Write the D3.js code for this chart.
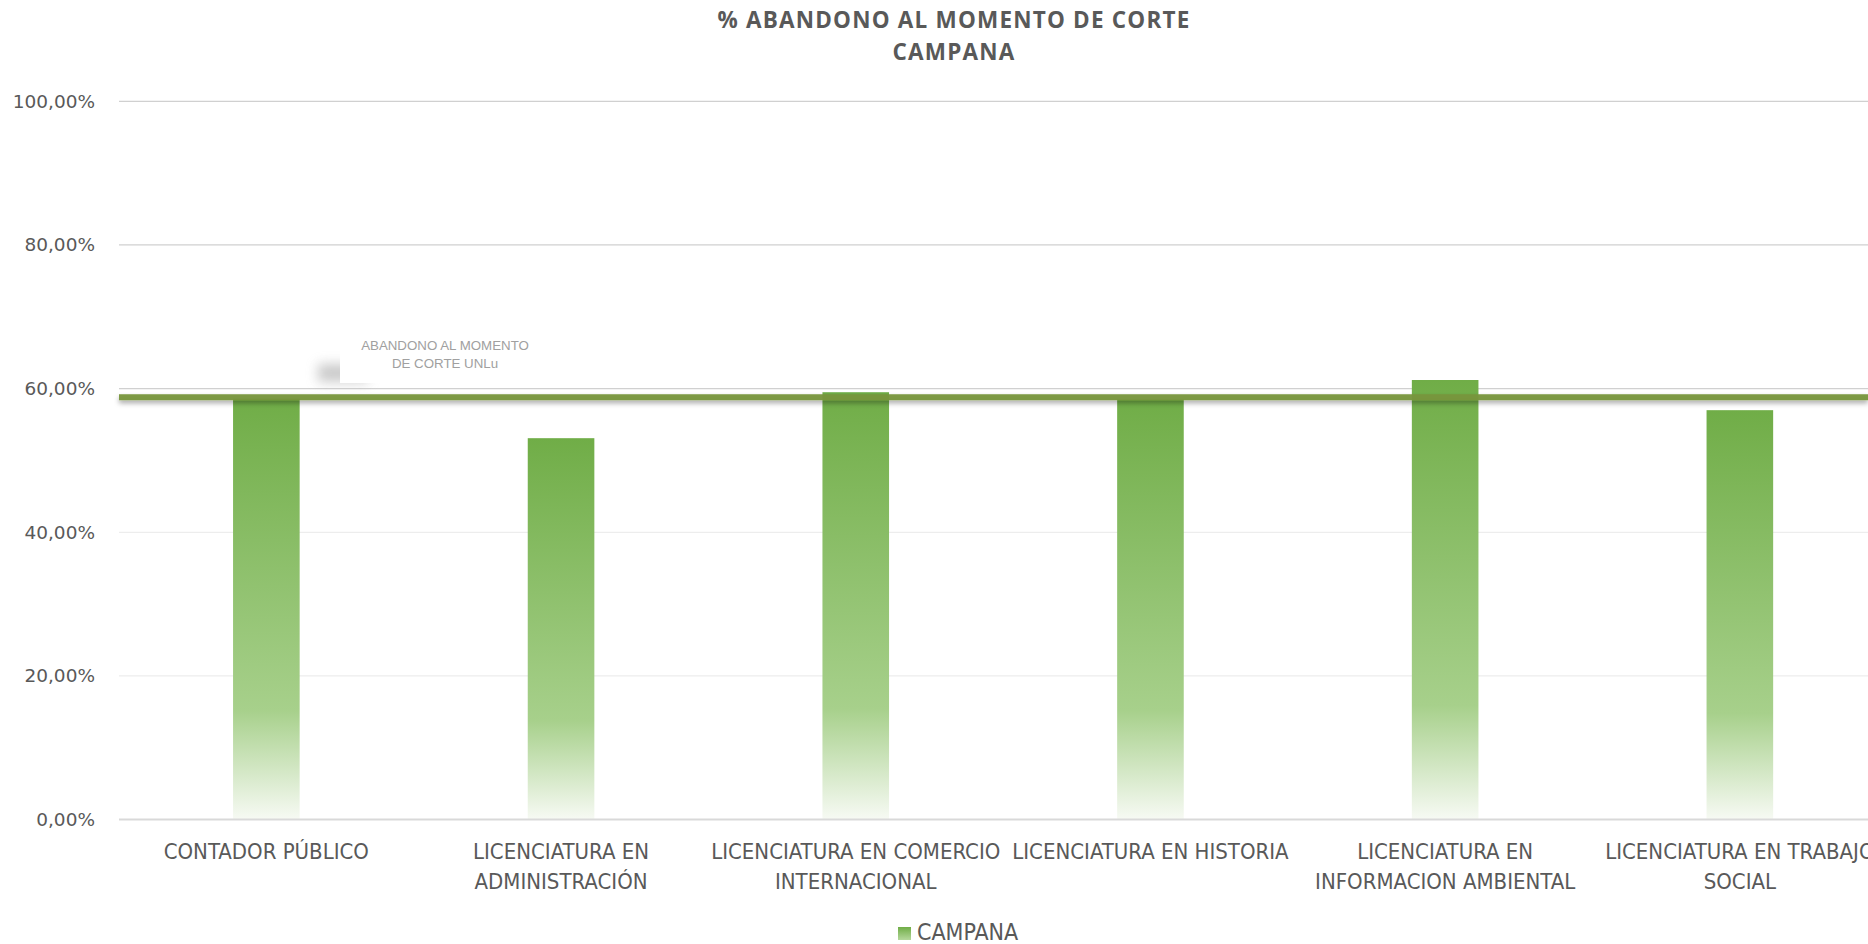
<!DOCTYPE html>
<html>
<head>
<meta charset="utf-8">
<script src="https://cdn.jsdelivr.net/npm/d3@7"></script>
<style>
  html, body { margin: 0; padding: 0; background: #fff; overflow: hidden; }
  .cat { font-family: "Liberation Sans Narrow", "DejaVu Sans Condensed", "Open Sans", sans-serif; }
</style>
</head>
<body>
<div id="chart"></div>
<script>
// chart data
const categories = [
  "CONTADOR PÚBLICO",
  "LICENCIATURA EN\nADMINISTRACIÓN",
  "LICENCIATURA EN COMERCIO\nINTERNACIONAL",
  "LICENCIATURA EN HISTORIA",
  "LICENCIATURA EN\nINFORMACION AMBIENTAL",
  "LICENCIATURA EN TRABAJO\nSOCIAL"
];
const campana = [0.586, 0.531, 0.595, 0.585, 0.612, 0.570];
const promedioUnlu = 0.588;
const yTicks = [0, 0.2, 0.4, 0.6, 0.8, 1];
const titleLines = ["% ABANDONO AL MOMENTO DE CORTE", "CAMPANA"];
const lineLabel = ["ABANDONO AL MOMENTO", "DE CORTE UNLu"];
const seriesName = "CAMPANA";

const width = 1868, height = 944;
const plotLeft = 119, plotTop = 101.3, plotBottom = 819.6;
const step = 294.7;

const svg = d3.select("#chart")
  .append("svg")
  .attr("width", width)
  .attr("height", height);

const defs = svg.append("defs");

// bar gradient
const grad = defs.append("linearGradient")
  .attr("id", "barGrad")
  .attr("x1", 0).attr("y1", 0).attr("x2", 0).attr("y2", 1);
grad.append("stop").attr("offset", "0").attr("stop-color", "#70ad47");
grad.append("stop").attr("offset", "0.74").attr("stop-color", "#a7d08b");
grad.append("stop").attr("offset", "1").attr("stop-color", "#f7faf4");

// shadow for the average line (user space, the line is flat)
const lineShadow = defs.append("filter")
  .attr("id", "lineShadow")
  .attr("filterUnits", "userSpaceOnUse")
  .attr("x", 0).attr("y", 300).attr("width", width).attr("height", 200);
lineShadow.append("feDropShadow")
  .attr("dx", 0).attr("dy", 3).attr("stdDeviation", 2.5)
  .attr("flood-color", "#000").attr("flood-opacity", 0.35);

const boxShadow = defs.append("filter")
  .attr("id", "boxShadow")
  .attr("filterUnits", "userSpaceOnUse")
  .attr("x", 280).attr("y", 320).attr("width", 120).attr("height", 90);
boxShadow.append("feGaussianBlur").attr("stdDeviation", 6);

const locale = d3.formatLocale({decimal: ",", thousands: ".", grouping: [3], currency: ["$", ""]});
const fmt = locale.format(".2%");

// scales
const x = d3.scaleBand()
  .domain(categories)
  .range([plotLeft, plotLeft + step * categories.length])
  .paddingInner(0.774)
  .paddingOuter(0.387);

const y = d3.scaleLinear()
  .domain([0, 1])
  .range([plotBottom, plotTop]);

// gridlines
svg.append("g")
  .selectAll("line")
  .data(yTicks.filter(d => d > 0))
  .enter()
  .append("line")
  .attr("x1", plotLeft)
  .attr("x2", width)
  .attr("y1", d => y(d))
  .attr("y2", d => y(d))
  .attr("stroke", d => d >= 0.6 ? "#d0d0d0" : "#ededed")
  .attr("stroke-width", 1.3);

// y tick labels
svg.append("g")
  .selectAll("text")
  .data(yTicks)
  .enter()
  .append("text")
  .attr("x", 95)
  .attr("y", d => y(d))
  .attr("dy", "0.35em")
  .attr("text-anchor", "end")
  .attr("font-family", "DejaVu Sans, Verdana, sans-serif")
  .attr("font-size", 18.5)
  .attr("fill", "#595959")
  .text(d => fmt(d));

// bars
svg.append("g")
  .selectAll("rect")
  .data(campana)
  .enter()
  .append("rect")
  .attr("x", (d, i) => x(categories[i]))
  .attr("y", d => y(d))
  .attr("width", x.bandwidth())
  .attr("height", d => y(0) - y(d))
  .attr("fill", "url(#barGrad)");

// x axis line
svg.append("line")
  .attr("x1", plotLeft)
  .attr("x2", width)
  .attr("y1", y(0))
  .attr("y2", y(0))
  .attr("stroke", "#d9d9d9")
  .attr("stroke-width", 2);

// average line
svg.append("rect")
  .attr("x", plotLeft)
  .attr("y", y(promedioUnlu) - 3)
  .attr("width", width - plotLeft)
  .attr("height", 6)
  .attr("fill", "#77963b")
  .attr("fill-opacity", 0.95)
  .attr("filter", "url(#lineShadow)");

// label of the average line
const lbl = svg.append("g");
lbl.append("rect")
  .attr("x", 318).attr("y", 364).attr("width", 50).attr("height", 18)
  .attr("fill", "#a0a0a0")
  .attr("opacity", 0.55)
  .attr("filter", "url(#boxShadow)");
lbl.append("rect")
  .attr("x", 340).attr("y", 333).attr("width", 212).attr("height", 50)
  .attr("fill", "#fff");
lbl.selectAll("text")
  .data(lineLabel)
  .enter()
  .append("text")
  .attr("x", 445)
  .attr("y", (d, i) => 345 + i * 18)
  .attr("dy", "0.35em")
  .attr("text-anchor", "middle")
  .attr("font-family", "Liberation Sans, Arial, sans-serif")
  .attr("font-size", 13.3)
  .attr("fill", "#a0a0a0")
  .text(d => d);

// category labels
const catG = svg.append("g");
categories.forEach((c, i) => {
  const lines = c.split("\n");
  catG.append("text")
    .attr("class", "cat")
    .attr("x", x(c) + x.bandwidth() / 2)
    .attr("text-anchor", "middle")
    .attr("font-size", 22)
    .attr("fill", "#595959")
    .selectAll("tspan")
    .data(lines)
    .enter()
    .append("tspan")
    .attr("x", x(c) + x.bandwidth() / 2)
    .attr("y", (d, j) => 851 + j * 30.5)
    .attr("dy", "0.35em")
    .text(d => d);
});

// title
svg.append("g")
  .selectAll("text")
  .data(titleLines)
  .enter()
  .append("text")
  .attr("x", 954)
  .attr("y", (d, i) => 20 + i * 32)
  .attr("dy", "0.35em")
  .attr("text-anchor", "middle")
  .attr("font-family", "Open Sans, sans-serif")
  .attr("font-weight", "bold")
  .attr("font-size", 22.5)
  .attr("letter-spacing", 1.2)
  .attr("fill", "#595959")
  .text(d => d);

// legend
const lgGrad = defs.append("linearGradient")
  .attr("id", "lgGrad")
  .attr("x1", 0).attr("y1", 0).attr("x2", 0).attr("y2", 1);
lgGrad.append("stop").attr("offset", "0").attr("stop-color", "#70ad47");
lgGrad.append("stop").attr("offset", "1").attr("stop-color", "#b5d89c");

const legend = svg.append("g");
legend.append("rect")
  .attr("x", 898).attr("y", 927).attr("width", 13).attr("height", 13)
  .attr("fill", "url(#lgGrad)");
legend.append("text")
  .attr("class", "cat")
  .attr("x", 917)
  .attr("y", 932)
  .attr("dy", "0.35em")
  .attr("font-size", 23)
  .attr("fill", "#595959")
  .text(seriesName);
</script>
</body>
</html>
